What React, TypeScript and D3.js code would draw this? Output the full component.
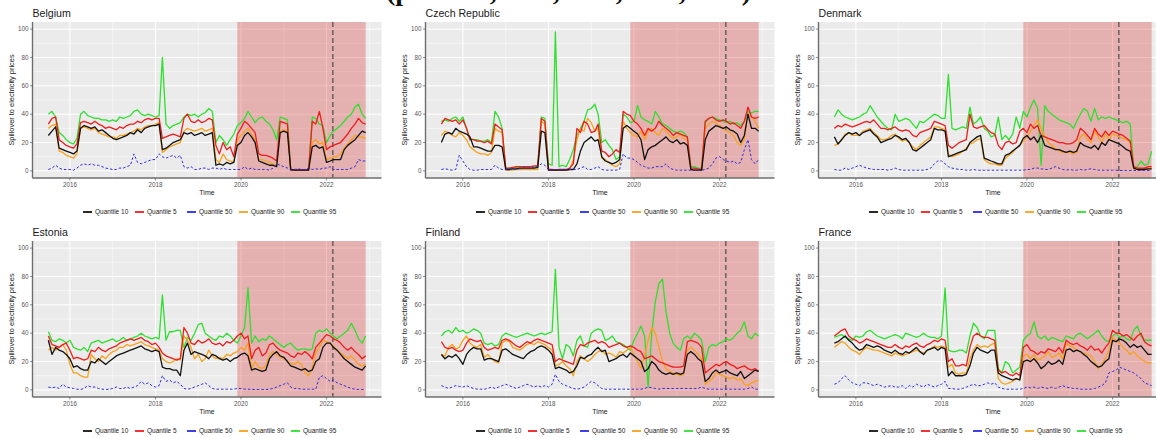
import React from "react";
import * as d3 from "d3";

// Monthly observations, July 2015 to December 2022
const MONTHS = d3.timeMonth.range(new Date(2015, 6, 1), new Date(2023, 0, 1));

const COUNTRIES = ["Belgium", "Czech Republic", "Denmark", "Estonia", "Finland", "France"];
const QUANTILE_LABELS = ["Quantile 10", "Quantile 5", "Quantile 50", "Quantile 90", "Quantile 95"];
const QUANTILE_COLORS = ["#111111", "#f01c1c", "#2b2be6", "#f7a21e", "#2ee02e"];
const Y_TICKS = [0, 20, 40, 60, 80, 100];
const Y_MINOR = [10, 30, 50, 70, 90];
const X_TICKS = [2016, 2018, 2020, 2022];
const X_MINOR = [2015, 2017, 2019, 2021, 2023];
const CRISIS_START = new Date(2019, 11, 1);
const CRISIS_END = new Date(2022, 11, 1);
const INVASION_DAY = new Date(2022, 1, 24);

// Belgium
const BE_Q10 = [
  25, 28, 31, 16, 15, 14,
  13, 12, 14, 30, 32, 31, 30, 31, 28, 29, 27, 25,
  23, 22, 23, 24, 25, 27, 26, 29, 27, 30, 31, 32,
  32, 33, 15, 16, 18, 20, 21, 22, 27, 26, 27, 25,
  26, 27, 25, 26, 27, 4, 5, 4, 6, 5, 6, 18,
  20, 25, 27, 24, 20, 7, 6, 5, 4, 4, 3, 27,
  28, 27, 1, 0.5, 0.5, 0.5, 0.5, 0.5, 17, 18, 16, 17,
  6, 7, 8, 8, 8, 15, 18, 20, 22, 25, 28, 27,
];
const BE_Q5 = [
  33, 37, 38, 22, 20, 18,
  17, 16, 19, 34, 35, 34, 33, 35, 33, 32, 30, 31,
  30, 29, 31, 30, 32, 33, 33, 35, 34, 36, 37, 36,
  37, 37, 23, 24, 25, 26, 25, 24, 37, 40, 35, 34,
  36, 34, 35, 37, 36, 18, 12, 20, 15, 17, 10, 26,
  30, 35, 33, 30, 27, 12, 11, 11, 10, 9, 7, 35,
  34, 33, 1, 0.8, 0.8, 0.8, 0.8, 0.8, 35, 33, 42, 30,
  15, 17, 18, 19, 20, 23, 26, 30, 33, 37, 34, 33,
];
const BE_Q50 = [
  1, 2, 4, 2, 1, 1,
  1, 0.5, 2, 4, 5, 4, 5, 4, 4, 3, 2, 1.5,
  1, 1, 2, 2, 3, 4, 12, 6, 5, 6, 7, 8,
  8, 12, 10, 9, 10, 11, 9, 11, 3, 2, 3, 1,
  1, 2, 2, 1, 2, 2, 1, 2, 1, 1, 1, 1,
  1, 3, 1, 2, 1, 1, 1, 1, 0.5, 2, 5, 4,
  3, 2, 0.5, 1, 1.5, 1, 1, 2, 1, 1.5, 1, 2,
  2, 3, 1, 1, 1, 1, 1, 2, 3, 8, 7, 7,
];
const BE_Q90 = [
  30, 32, 33, 14, 13, 11,
  10, 9, 12, 30, 31, 30, 29, 30, 27, 26, 25, 24,
  24, 23, 25, 25, 26, 27, 28, 30, 29, 31, 32, 32,
  33, 34, 13, 15, 17, 18, 19, 20, 28, 30, 29, 28,
  29, 30, 28, 29, 30, 8, 6, 12, 8, 7, 6, 22,
  25, 28, 30, 26, 22, 8, 8, 7, 6, 5, 4, 28,
  29, 28, 0.8, 0.6, 0.6, 0.6, 0.6, 0.6, 20, 22, 19, 20,
  8, 9, 10, 10, 12, 16, 19, 22, 25, 24, 24, 23,
];
const BE_Q95 = [
  40, 42, 38, 27, 25, 22,
  20, 19, 23, 40, 42, 39, 38, 37, 37, 36, 36, 35,
  36, 35, 38, 37, 38, 39, 42, 43, 40, 39, 40, 39,
  38, 39, 80, 33, 30, 32, 33, 34, 38, 40, 39, 40,
  38, 40, 41, 44, 42, 20, 25, 22, 18, 22, 26, 32,
  34, 37, 42, 38, 34, 37, 38, 35, 33, 29, 22, 38,
  37, 36, 1, 0.8, 0.8, 0.8, 0.8, 0.8, 38, 37, 33, 32,
  20, 25, 28, 30, 32, 35, 38, 40, 45, 47, 40, 37,
];

// Czech Republic
const CZ_Q10 = [
  20, 26, 27, 26, 30, 28,
  27, 26, 24, 17, 17, 16, 15, 14, 14, 18, 18, 17,
  1, 1, 1.5, 1.5, 2, 2, 2, 2, 2, 2.5, 28, 27,
  0.5, 0.5, 0.5, 0.5, 0.5, 0.5, 1, 1, 5, 14, 20, 22,
  24, 21, 22, 10, 7, 6, 5, 6, 8, 30, 32, 30,
  28, 26, 22, 8, 15, 17, 18, 20, 22, 24, 21, 20,
  22, 19, 20, 18, 1, 0.5, 0.5, 0.5, 22, 28, 30, 32,
  31, 30, 31, 29, 28, 26, 20, 25, 40, 30, 30, 28,
];
const CZ_Q5 = [
  33, 37, 36, 35, 36, 33,
  36, 30, 22, 22, 21, 21, 20, 21, 19, 33, 31, 29,
  2, 2, 2.5, 3, 3, 3, 3, 3, 3.5, 3.5, 37, 35,
  1, 1, 0.5, 1, 1, 1, 2, 5, 30, 27, 35, 33,
  27, 28, 33, 14, 13, 10, 12, 15, 13, 42, 40, 39,
  35, 33, 30, 25, 30, 28, 30, 35, 32, 30, 28, 25,
  27, 26, 25, 24, 2, 2, 1.5, 1, 35, 37, 38, 36,
  35, 36, 35, 33, 34, 32, 30, 35, 45, 38, 37, 38,
];
const CZ_Q50 = [
  1, 1.5, 1, 0.5, 1, 11,
  7, 3, 1, 0.5, 0.5, 1, 1, 1, 1, 4, 2, 1,
  1, 1, 1, 1.5, 1.5, 2, 2, 2, 2.5, 3, 5, 4,
  1, 0.5, 1, 1, 1, 1, 1, 1, 1, 2, 3, 1,
  1, 2, 3, 1, 0.5, 0.5, 0.5, 0.5, 1, 12, 9, 9,
  8, 6, 4, 3, 2, 2, 3, 3, 3, 5, 2, 1,
  0.5, 0.5, 0.5, 0.5, 0.5, 0.5, 0.5, 0.5, 1, 2, 5, 9,
  10, 8, 7, 6, 7, 5, 6, 15, 22, 8, 5, 8,
];
const CZ_Q90 = [
  25, 28, 27, 25, 24, 27,
  25, 22, 17, 15, 13, 12, 12, 11, 13, 30, 28, 27,
  0.5, 0.5, 0.5, 1, 1, 1, 1, 1, 1, 1, 35, 33,
  0.5, 0.5, 0.5, 0.5, 0.5, 0.5, 1, 8, 22, 30, 28, 37,
  34, 28, 30, 9, 8, 6, 4, 3, 5, 35, 30, 27,
  25, 24, 28, 22, 28, 30, 27, 25, 30, 28, 25, 23,
  24, 26, 23, 22, 1, 1, 0.5, 0.5, 30, 33, 35, 34,
  32, 30, 28, 27, 25, 20, 18, 22, 40, 38, 35, 30,
];
const CZ_Q95 = [
  35, 36, 35, 37, 38, 35,
  38, 30, 23, 22, 22, 21, 21, 22, 20, 42, 38, 30,
  1.5, 2, 2, 2.5, 3, 3, 3, 3, 3, 3, 38, 37,
  5, 4, 98, 3, 4, 3, 8, 15, 25, 30, 35, 43,
  44, 47, 40, 20, 22, 18, 15, 8, 10, 40, 38, 34,
  35, 46, 38, 36, 35, 33, 42, 38, 33, 32, 30, 28,
  27, 28, 27, 24, 3, 3, 2, 2, 34, 37, 38, 37,
  36, 35, 34, 35, 33, 34, 32, 35, 42, 41, 42, 42,
];

// Denmark
const DK_Q10 = [
  24, 19, 22, 25, 27, 26,
  27, 25, 27, 28, 29, 26, 24, 20, 21, 22, 23, 25,
  24, 22, 23, 20, 15, 14, 16, 18, 20, 22, 30, 29,
  29, 28, 10, 11, 12, 13, 14, 15, 20, 22, 24, 25,
  9, 8, 7, 6, 5, 5, 11, 12, 14, 16, 18, 23,
  25, 22, 24, 20, 25, 18, 17, 16, 15, 15, 14, 13,
  14, 13, 14, 20, 18, 17, 16, 18, 15, 20, 18, 22,
  21, 20, 19, 17, 15, 14, 2, 1, 1, 1, 1.5, 1.5,
];
const DK_Q5 = [
  30, 32, 31, 33, 32, 31,
  32, 33, 34, 35, 34, 36, 33, 30, 30, 29, 30, 31,
  29, 28, 29, 28, 25, 24, 27, 28, 29, 30, 35, 34,
  33, 32, 18, 16, 18, 20, 21, 22, 40, 31, 30, 31,
  32, 29, 27, 26, 18, 15, 20, 21, 19, 20, 28, 30,
  27, 33, 30, 32, 25, 24, 23, 22, 21, 20, 20, 19,
  19, 20, 22, 30, 28, 25, 22, 30, 26, 24, 28, 25,
  28, 27, 26, 25, 23, 21, 3, 2, 2, 2, 3, 3,
];
const DK_Q50 = [
  1, 0.5, 0.5, 2, 1, 2,
  3, 4, 3, 2, 1.5, 1, 1, 1, 1, 0.5, 1, 2,
  1, 0.5, 0.5, 0.5, 0.5, 0.5, 0.5, 0.5, 1, 2, 5, 7,
  7, 5, 3, 2, 1.5, 1, 1, 0.5, 0.5, 1, 0.5, 0.5,
  0.5, 0.5, 0.5, 0.5, 0.5, 0.5, 0.5, 0.5, 0.5, 0.5, 0.5, 0.5,
  1, 1, 2, 2, 1.5, 1, 1, 2, 3, 2, 1, 0.5,
  1, 0.5, 0.5, 1, 0.5, 1, 1.5, 1, 0.5, 0.5, 0.5, 0.5,
  0.5, 0.5, 0.3, 0.3, 0.3, 0.3, 0.3, 0.3, 0.3, 0.3, 0.3, 0.3,
];
const DK_Q90 = [
  18, 19, 22, 26, 27, 25,
  25, 25, 28, 29, 30, 27, 25, 22, 22, 23, 25, 26,
  23, 21, 22, 20, 17, 15, 18, 20, 22, 24, 31, 31,
  30, 29, 12, 10, 11, 12, 14, 16, 19, 20, 22, 23,
  8, 6, 5, 5, 4, 4, 9, 11, 13, 16, 18, 21,
  24, 28, 32, 36, 30, 25, 20, 18, 16, 14, 13, 13,
  13, 12, 13, 24, 26, 22, 20, 28, 24, 20, 26, 22,
  26, 25, 24, 23, 22, 20, 1.5, 1, 1, 1.5, 2, 2,
];
const DK_Q95 = [
  38, 43, 40, 38, 37, 36,
  37, 38, 40, 41, 46, 42, 38, 35, 32, 30, 29, 40,
  35, 36, 37, 36, 33, 30, 35, 34, 36, 38, 40, 39,
  37, 37, 68, 30, 29, 30, 31, 30, 45, 33, 35, 38,
  30, 28, 24, 25, 38, 22, 25, 22, 26, 38, 30, 42,
  38, 45, 50, 44, 4, 46, 42, 40, 38, 36, 35, 34,
  33, 30, 35, 40, 44, 42, 35, 44, 36, 38, 37, 38,
  37, 36, 35, 34, 35, 33, 2, 3, 7, 4, 5, 14,
];

// Estonia
const EE_Q10 = [
  35, 25, 30, 28, 27, 25,
  22, 16, 17, 15, 14, 14, 20, 19, 22, 20, 18, 20,
  22, 24, 25, 26, 27, 28, 29, 30, 31, 29, 28, 27,
  28, 27, 16, 15, 15, 14, 14, 10, 28, 33, 25, 27,
  26, 25, 24, 22, 25, 24, 22, 21, 22, 20, 22, 23,
  25, 26, 24, 14, 15, 14, 13, 14, 22, 25, 27, 24,
  23, 20, 17, 16, 15, 14, 15, 13, 14, 20, 22, 30,
  33, 33, 30, 28, 25, 22, 20, 18, 16, 15, 14, 17,
];
const EE_Q5 = [
  38, 32, 31, 30, 32, 33,
  28, 22, 23, 22, 21, 22, 28, 27, 30, 28, 27, 29,
  30, 31, 33, 34, 35, 36, 35, 36, 37, 35, 34, 32,
  33, 30, 26, 24, 23, 22, 21, 22, 44, 40, 33, 32,
  35, 33, 34, 36, 33, 32, 33, 31, 34, 33, 35, 38,
  40, 36, 38, 22, 28, 30, 24, 26, 32, 33, 30, 28,
  27, 26, 24, 23, 26, 25, 27, 25, 22, 30, 33, 36,
  39, 38, 36, 35, 33, 30, 28, 30, 27, 25, 22, 24,
];
const EE_Q50 = [
  2, 1.5, 2, 1, 4, 2,
  1.5, 1, 0.5, 0.3, 1, 3, 2, 2, 1, 0.5, 0.3, 0.5,
  1, 2, 1, 1, 2, 1, 2, 3, 6, 4, 5, 3,
  2, 3, 10, 6, 7, 5, 6, 4, 1, 0.5, 1, 2,
  3, 4, 5, 3, 1, 0.5, 0.5, 0.5, 0.5, 0.5, 0.5, 1,
  1, 0.5, 0.5, 0.3, 0.3, 0.3, 0.3, 0.3, 0.5, 1, 2, 3,
  4, 5, 2, 1, 1, 0.5, 0.5, 0.5, 0.5, 0.5, 9, 10,
  8, 6, 7, 5, 4, 3, 2, 1, 0.5, 0.3, 0.3, 0.3,
];
const EE_Q90 = [
  28, 30, 28, 30, 32, 28,
  18, 12, 12, 10, 9, 9, 25, 22, 20, 24, 22, 25,
  27, 28, 30, 30, 32, 31, 32, 33, 34, 32, 31, 30,
  29, 28, 22, 20, 19, 20, 22, 21, 38, 35, 30, 22,
  25, 20, 22, 28, 24, 22, 23, 22, 25, 24, 26, 27,
  30, 28, 33, 15, 20, 16, 15, 17, 25, 27, 25, 23,
  22, 20, 19, 18, 20, 18, 12, 10, 16, 26, 30, 35,
  34, 33, 31, 28, 26, 24, 22, 24, 21, 18, 17, 18,
];
const EE_Q95 = [
  41, 35, 34, 36, 35, 33,
  35, 30, 29, 28, 30, 27, 33, 34, 35, 33, 34, 35,
  36, 34, 35, 37, 35, 36, 37, 38, 40, 38, 37, 36,
  37, 36, 67, 35, 41, 41, 42, 42, 30, 37, 35, 40,
  46, 47, 40, 38, 36, 35, 38, 37, 40, 38, 35, 33,
  38, 44, 72, 33, 38, 34, 36, 35, 38, 36, 34, 32,
  30, 32, 33, 30, 28, 29, 29, 28, 29, 40, 42, 41,
  43, 40, 38, 36, 38, 40, 42, 47, 42, 36, 33, 38,
];

// Finland
const FI_Q10 = [
  25, 22, 24, 23, 25, 22,
  18, 25, 28, 30, 29, 29, 21, 22, 22, 21, 20, 28,
  29, 27, 25, 24, 23, 22, 25, 27, 28, 30, 31, 30,
  28, 25, 15, 16, 15, 14, 12, 13, 17, 23, 22, 24,
  25, 28, 30, 27, 28, 20, 21, 22, 24, 25, 23, 26,
  24, 22, 20, 13, 15, 20, 18, 14, 12, 11, 12, 11,
  12, 11, 12, 25, 27, 25, 22, 20, 6, 8, 12, 14,
  12, 13, 14, 12, 11, 10, 13, 8, 10, 12, 14, 13,
];
const FI_Q5 = [
  34, 30, 29, 30, 28, 27,
  28, 33, 36, 35, 34, 35, 30, 28, 29, 30, 29, 35,
  36, 35, 33, 31, 30, 32, 34, 33, 35, 36, 35, 34,
  33, 32, 20, 22, 21, 20, 19, 18, 28, 32, 31, 33,
  34, 35, 33, 34, 33, 30, 31, 32, 33, 31, 30, 31,
  30, 28, 27, 22, 23, 24, 22, 20, 19, 18, 17, 16,
  16, 16, 17, 34, 35, 34, 33, 30, 12, 14, 16, 18,
  17, 19, 20, 18, 17, 15, 16, 17, 15, 14, 15, 13,
];
const FI_Q50 = [
  3, 2, 1, 2, 3, 2.5,
  2, 3, 2, 1, 0.5, 0.5, 0.5, 1, 2, 1, 2, 3,
  4, 3, 2, 1, 2, 3, 4, 3, 2, 3, 2, 3,
  2, 4, 11, 6, 4, 3, 2, 1, 0.5, 1, 2, 4,
  6, 5, 3, 1, 0.5, 0.5, 0.5, 0.5, 0.5, 0.5, 0.5, 0.5,
  0.5, 0.5, 0.5, 1, 2, 1.5, 1, 0.5, 1, 1, 1, 1,
  1, 1, 1, 1, 1, 1, 1, 2, 1, 0.5, 0.5, 0.5,
  0.5, 0.5, 0.5, 0.5, 0.5, 0.5, 0.5, 0.5, 1, 2, 0.5, 0.5,
];
const FI_Q90 = [
  25, 24, 30, 32, 29, 30,
  35, 38, 33, 31, 30, 32, 23, 25, 22, 20, 19, 33,
  35, 34, 30, 29, 28, 30, 32, 33, 32, 34, 33, 32,
  30, 28, 17, 18, 20, 17, 15, 10, 20, 24, 22, 20,
  22, 25, 27, 28, 25, 26, 25, 23, 27, 26, 28, 30,
  25, 20, 15, 24, 35, 44, 40, 30, 20, 15, 13, 12,
  11, 10, 11, 28, 30, 28, 25, 22, 4, 6, 8, 12,
  11, 10, 9, 8, 9, 7, 8, 4, 3, 5, 6, 7,
];
const FI_Q95 = [
  38, 41, 42, 40, 44, 41,
  42, 40, 41, 43, 42, 40, 33, 32, 33, 31, 32, 38,
  40, 39, 38, 37, 38, 39, 40, 39, 38, 39, 40, 39,
  40, 41, 85, 30, 22, 32, 30, 24, 35, 38, 31, 30,
  40, 42, 43, 42, 35, 36, 38, 34, 33, 32, 30, 28,
  35, 40, 45, 38, 2, 40, 62, 75, 78, 55, 40, 33,
  30, 28, 36, 38, 36, 40, 38, 35, 20, 30, 32, 31,
  33, 34, 36, 35, 37, 40, 42, 48, 38, 36, 40, 38,
];

// France
const FR_Q10 = [
  33, 34, 36, 38, 35, 33,
  30, 28, 29, 32, 31, 30, 31, 30, 28, 27, 26, 28,
  26, 25, 27, 26, 28, 30, 27, 25, 28, 29, 30, 28,
  30, 29, 10, 13, 10, 10, 10, 11, 17, 26, 30, 28,
  27, 26, 28, 28, 12, 10, 9, 8, 7, 8, 7, 20,
  21, 20, 22, 19, 15, 17, 20, 18, 19, 21, 18, 28,
  29, 27, 28, 27, 25, 23, 20, 18, 16, 17, 20, 22,
  35, 34, 36, 35, 33, 30, 32, 30, 31, 28, 25, 25,
];
const FR_Q5 = [
  38, 40, 42, 43, 38, 36,
  35, 33, 34, 36, 35, 34, 33, 32, 31, 30, 30, 32,
  30, 29, 31, 30, 32, 33, 31, 30, 32, 33, 35, 34,
  36, 35, 20, 22, 17, 17, 18, 17, 30, 38, 40, 38,
  37, 37, 36, 35, 14, 12, 13, 11, 10, 12, 10, 30,
  32, 28, 27, 25, 27, 26, 29, 28, 27, 30, 26, 35,
  33, 32, 33, 31, 30, 28, 31, 28, 29, 26, 30, 33,
  42, 40, 40, 38, 39, 37, 35, 38, 40, 34, 32, 31,
];
const FR_Q50 = [
  4, 5, 8, 10, 7, 5,
  4, 3, 5, 5, 4, 3, 4, 3, 2, 2.5, 3, 2,
  2, 3, 1, 3, 2, 4, 3, 2, 4, 3, 2, 3,
  4, 6, 1, 1, 0.5, 0.5, 1, 2, 3, 4, 3, 3,
  4, 5, 4, 5, 2, 1, 0.5, 0.5, 0.5, 0.5, 0.5, 1,
  2, 1.5, 2, 1, 2, 1.5, 1, 2, 1, 2, 3, 2,
  1.5, 1, 1, 0.5, 0.5, 0.5, 0.5, 1, 2, 3, 5, 12,
  13, 14, 16, 15, 14, 13, 12, 10, 8, 5, 4, 3,
];
const FR_Q90 = [
  30, 32, 34, 33, 30, 28,
  27, 25, 28, 30, 29, 28, 28, 27, 26, 25, 24, 26,
  25, 24, 25, 26, 27, 28, 27, 26, 28, 29, 31, 30,
  31, 30, 16, 18, 12, 11, 12, 12, 22, 28, 32, 30,
  31, 30, 32, 33, 8, 5, 4, 5, 6, 8, 7, 24,
  25, 22, 25, 21, 22, 24, 27, 23, 24, 26, 22, 33,
  31, 30, 28, 27, 26, 25, 24, 20, 15, 18, 22, 28,
  37, 35, 33, 30, 28, 25, 27, 24, 22, 20, 19, 19,
];
const FR_Q95 = [
  37, 38, 39, 37, 36, 35,
  38, 37, 38, 41, 42, 40, 38, 37, 36, 37, 38, 39,
  38, 36, 40, 39, 38, 37, 38, 40, 38, 37, 37, 36,
  38, 72, 28, 27, 27, 28, 28, 26, 38, 47, 44, 38,
  36, 42, 42, 42, 15, 12, 20, 18, 12, 14, 16, 35,
  38, 40, 48, 38, 36, 38, 35, 37, 36, 35, 34, 38,
  37, 36, 39, 40, 38, 36, 38, 40, 42, 38, 35, 34,
  38, 40, 37, 38, 36, 35, 42, 45, 38, 35, 35, 35,
];

// Series per panel, in legend order: Q10, Q5, Q50, Q90, Q95
const PANEL_SERIES = [
  [BE_Q10, BE_Q5, BE_Q50, BE_Q90, BE_Q95],
  [CZ_Q10, CZ_Q5, CZ_Q50, CZ_Q90, CZ_Q95],
  [DK_Q10, DK_Q5, DK_Q50, DK_Q90, DK_Q95],
  [EE_Q10, EE_Q5, EE_Q50, EE_Q90, EE_Q95],
  [FI_Q10, FI_Q5, FI_Q50, FI_Q90, FI_Q95],
  [FR_Q10, FR_Q5, FR_Q50, FR_Q90, FR_Q95],
];

const FONT = "'Liberation Sans', Arial, Helvetica, sans-serif";
const COL_LEFT = [32.5, 425.5, 818.5];
const ROW_TOP = [22, 241];
const PLOT_W = 349;
const PLOT_H = 156;
// draw order: upper quantiles underneath, black and dashed median on top
const DRAW_ORDER = [4, 3, 1, 0, 2];

function Panel({ idx }: { idx: number }) {
  const left = COL_LEFT[idx % 3];
  const top = ROW_TOP[Math.floor(idx / 3)];
  const bottom = top + PLOT_H;
  const right = left + PLOT_W;
  const series = PANEL_SERIES[idx];

  const [t0, t1] = d3.extent(MONTHS) as [Date, Date];
  const pad = (t1.getTime() - t0.getTime()) * 0.05;
  const x = d3
    .scaleTime()
    .domain([new Date(t0.getTime() - pad), new Date(t1.getTime() + pad)])
    .range([left, right]);
  const y = d3.scaleLinear().domain([-5, 105]).range([bottom, top]);
  const line = d3
    .line<number>()
    .x((_, i) => x(MONTHS[i]))
    .y((d) => y(d));

  const yr = (v: number) => x(new Date(v, 0, 1));
  const clipId = `clip-${idx}`;
  const cx = left + PLOT_W / 2;
  const legendStart = left + 50.5;

  return (
    <g>
      <defs>
        <clipPath id={clipId}>
          <rect x={left} y={top} width={PLOT_W} height={PLOT_H} />
        </clipPath>
      </defs>
      <rect x={left} y={top} width={PLOT_W} height={PLOT_H} fill="#ebebeb" />
      <g clipPath={`url(#${clipId})`}>
        {Y_MINOR.map((v) => (
          <line key={`ym${v}`} x1={left} x2={right} y1={y(v)} y2={y(v)} stroke="#fff" strokeWidth={0.5} />
        ))}
        {X_MINOR.map((v) => (
          <line key={`xm${v}`} x1={yr(v)} x2={yr(v)} y1={top} y2={bottom} stroke="#fff" strokeWidth={0.5} />
        ))}
        {Y_TICKS.map((v) => (
          <line key={`yM${v}`} x1={left} x2={right} y1={y(v)} y2={y(v)} stroke="#fff" strokeWidth={1} />
        ))}
        {X_TICKS.map((v) => (
          <line key={`xM${v}`} x1={yr(v)} x2={yr(v)} y1={top} y2={bottom} stroke="#fff" strokeWidth={1} />
        ))}
        <rect
          x={x(CRISIS_START)}
          y={top}
          width={x(CRISIS_END) - x(CRISIS_START)}
          height={PLOT_H}
          fill="#d40000"
          fillOpacity={0.25}
        />
        <line
          x1={x(INVASION_DAY)}
          x2={x(INVASION_DAY)}
          y1={top}
          y2={bottom}
          stroke="#4a4a4a"
          strokeWidth={1.2}
          strokeDasharray="5,3"
        />
        {DRAW_ORDER.map((k) => (
          <path
            key={k}
            d={line(series[k]) || ""}
            fill="none"
            stroke={QUANTILE_COLORS[k]}
            strokeWidth={k === 2 ? 1 : 1.3}
            strokeDasharray={k === 2 ? "2.5,2" : undefined}
            strokeLinejoin="round"
          />
        ))}
      </g>
      {/* axes */}
      <line x1={left} x2={left} y1={top} y2={bottom} stroke="#6e6e6e" strokeWidth={1.4} />
      <line x1={left} x2={right} y1={bottom} y2={bottom} stroke="#6e6e6e" strokeWidth={1.6} />
      {Y_TICKS.map((v) => (
        <g key={`yt${v}`}>
          <line x1={left - 2.5} x2={left} y1={y(v)} y2={y(v)} stroke="#444" strokeWidth={0.6} />
          <text x={left - 4} y={y(v)} dy="0.35em" textAnchor="end" fontSize={6.3} fill="#555" fontFamily={FONT}>
            {v}
          </text>
        </g>
      ))}
      {X_TICKS.map((v) => (
        <g key={`xt${v}`}>
          <line x1={yr(v)} x2={yr(v)} y1={bottom} y2={bottom + 2.5} stroke="#444" strokeWidth={0.6} />
          <text x={yr(v)} y={bottom + 9} textAnchor="middle" fontSize={6.3} fill="#555" fontFamily={FONT}>
            {v}
          </text>
        </g>
      ))}
      <text x={left} y={top - 5} fontSize={10.6} fill="#1a1a1a" fontFamily={FONT}>
        {COUNTRIES[idx]}
      </text>
      <text x={cx} y={bottom + 17} textAnchor="middle" fontSize={7} fill="#1a1a1a" fontFamily={FONT}>
        Time
      </text>
      <text
        transform={`translate(${left - 18.5},${top + PLOT_H / 2}) rotate(-90)`}
        textAnchor="middle"
        fontSize={7.4}
        fill="#1a1a1a"
        fontFamily={FONT}
      >
        Spillover to electricity prices
      </text>
      {/* legend */}
      {QUANTILE_LABELS.map((lab, k) => {
        const kx = legendStart + k * 52;
        const ly = bottom + 34;
        return (
          <g key={lab}>
            <line x1={kx} x2={kx + 9} y1={ly} y2={ly} stroke={QUANTILE_COLORS[k]} strokeWidth={1.8} />
            <text x={kx + 12} y={ly} dy="0.35em" fontSize={6.5} fill="#1a1a1a" fontFamily={FONT}>
              {lab}
            </text>
          </g>
        );
      })}
    </g>
  );
}

export default function App() {
  return (
    <div style={{ position: "absolute", left: 0, top: 0, background: "#fff" }}>
      <svg width={1156} height={438} style={{ display: "block", background: "#fff" }}>
        {/* figure caption running off the top edge; only its descenders remain in view */}
        <text
          x={386}
          y={-0.5}
          fontSize={28}
          fontWeight="bold"
          fontFamily="'Liberation Serif', 'Times New Roman', serif"
          fill="#111"
        >
          (p = 0.05, 0.10, 0.50, 0.90, 0.95)
        </text>
        {COUNTRIES.map((_, i) => (
          <Panel key={i} idx={i} />
        ))}
      </svg>
    </div>
  );
}
